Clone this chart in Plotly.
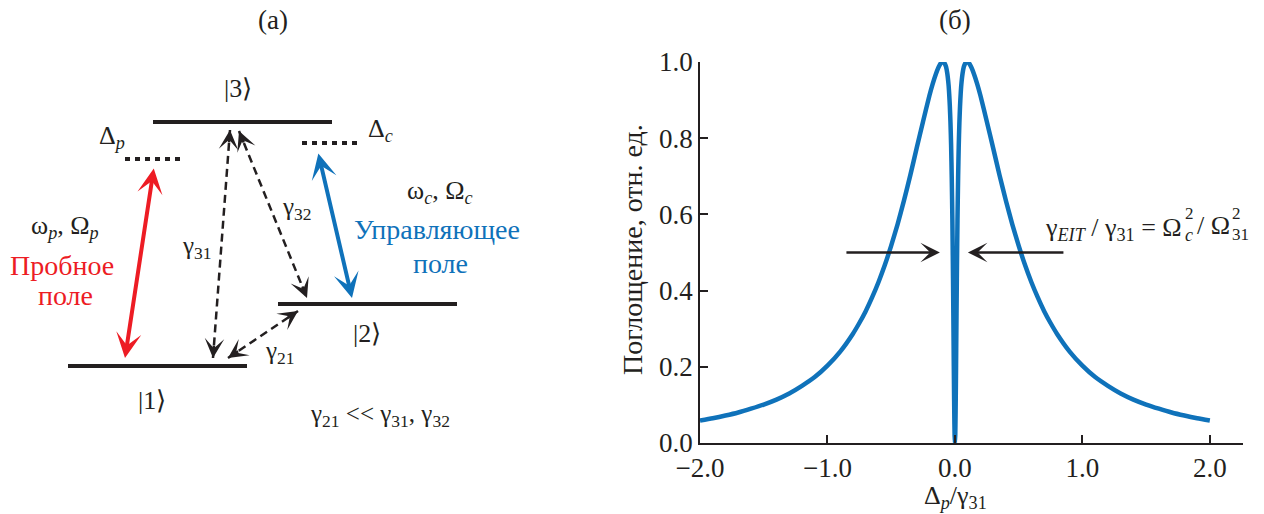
import plotly.graph_objects as go

# ---- absorption spectrum (panel б) ----
delta = [-2.0, -1.9, -1.8, -1.7, -1.6, -1.5, -1.4, -1.3, -1.2, -1.1, -1.0, -0.9, -0.8,
         -0.75, -0.7, -0.65, -0.6, -0.55, -0.5, -0.45, -0.4, -0.35, -0.3, -0.25, -0.2,
         -0.175, -0.15, -0.13, -0.12, -0.11, -0.1, -0.094, -0.085, -0.08, -0.07, -0.06,
         -0.05, -0.045, -0.04, -0.035, -0.03, -0.025, -0.02, -0.015, -0.01, -0.0075,
         -0.005, -0.0025, 0.0, 0.0025, 0.005, 0.0075, 0.01, 0.015, 0.02, 0.025, 0.03,
         0.035, 0.04, 0.045, 0.05, 0.06, 0.07, 0.08, 0.085, 0.094, 0.1, 0.11, 0.12, 0.13,
         0.15, 0.175, 0.2, 0.25, 0.3, 0.35, 0.4, 0.45, 0.5, 0.55, 0.6, 0.65, 0.7, 0.75,
         0.8, 0.9, 1.0, 1.1, 1.2, 1.3, 1.4, 1.5, 1.6, 1.7, 1.8, 1.9, 2.0]
absorption = [0.059, 0.065, 0.072, 0.080, 0.090, 0.101, 0.114, 0.130, 0.150, 0.173,
              0.203, 0.240, 0.287, 0.315, 0.346, 0.382, 0.422, 0.467, 0.518, 0.574,
              0.636, 0.703, 0.774, 0.844, 0.912, 0.942, 0.968, 0.985, 0.992, 0.997,
              0.999, 1.000, 0.999, 0.996, 0.988, 0.970, 0.940, 0.916, 0.884, 0.841,
              0.781, 0.698, 0.584, 0.431, 0.247, 0.154, 0.074, 0.020, 0.0, 0.020,
              0.074, 0.154, 0.247, 0.431, 0.584, 0.698, 0.781, 0.841, 0.884, 0.916,
              0.940, 0.970, 0.988, 0.996, 0.999, 1.000, 0.999, 0.997, 0.992, 0.985,
              0.968, 0.942, 0.912, 0.844, 0.774, 0.703, 0.636, 0.574, 0.518, 0.467,
              0.422, 0.382, 0.346, 0.315, 0.287, 0.240, 0.203, 0.173, 0.150, 0.130,
              0.114, 0.101, 0.090, 0.080, 0.072, 0.065, 0.059]
x_ticks = [-2.0, -1.0, 0.0, 1.0, 2.0]
y_ticks = [0.0, 0.2, 0.4, 0.6, 0.8, 1.0]
eit_level = 0.5
eit_arrow_left = (-0.863, -0.118)
eit_arrow_right = (0.863, 0.102)

W, H = 1264, 514
BLACK = "#231f20"
BLUE = "#0f72ba"
RED = "#ed1c24"
FONT = "Liberation Serif"

fig = go.Figure()
fig.add_trace(go.Scatter(x=delta, y=absorption, mode="lines",
                         line=dict(color=BLUE, width=4.5, shape="spline", smoothing=0.6),
                         cliponaxis=False, hoverinfo="skip", showlegend=False,
                         xaxis="x", yaxis="y"))
# empty trace so the diagram canvas (x2/y2, pixel units) exists
fig.add_trace(go.Scatter(x=[0], y=[0], mode="markers", marker=dict(opacity=0),
                         hoverinfo="skip", showlegend=False, xaxis="x2", yaxis="y2"))

ax_common = dict(showgrid=False, zeroline=False, showline=True, linewidth=1.5,
                 linecolor=BLACK, ticks="inside", ticklen=8, tickwidth=1.5,
                 tickcolor=BLACK, tickformat=".1f", automargin=False,
                 tickfont=dict(family=FONT, size=27, color=BLACK))
fig.update_layout(
    width=W, height=H, margin=dict(l=0, r=0, t=0, b=0),
    paper_bgcolor="white", plot_bgcolor="white",
    font=dict(family=FONT, color=BLACK),
    xaxis=dict(domain=[700 / W, 1243 / W], range=[-2.0, 2.26], tickvals=x_ticks,
               anchor="y", **ax_common),
    yaxis=dict(domain=[(H - 443) / H, (H - 62) / H], range=[0, 1], tickvals=y_ticks,
               anchor="x", **ax_common),
    xaxis2=dict(domain=[0, 0.5], range=[0, W / 2], visible=False, anchor="y2"),
    yaxis2=dict(domain=[0, 1], range=[H, 0], visible=False, anchor="x2"),
)


def px(x, y):
    return dict(x=x / W, y=1 - y / H, xref="paper", yref="paper")


def label(x, y, text, size=26, color=BLACK, angle=0, anchor="center"):
    fig.add_annotation(text=text, showarrow=False, textangle=angle,
                       font=dict(family=FONT, size=size, color=color),
                       xanchor=anchor, yanchor="middle", **px(x, y))


# ---- axis titles and panel captions ----
label(632, 250, "Поглощение, отн. ед.", size=28, angle=-90)
label(955, 497, "Δ<sub><i>p</i></sub>/γ<sub>31</sub>", size=26)
label(273, 20, "(a)", size=27)
label(955, 20, "(б)", size=27)

# EIT linewidth formula, with stacked indices on Ω
label(1184, 229, "γ<sub><i>EIT</i></sub> / γ<sub>31</sub> = Ω", size=26, anchor="right")
label(1189, 213, "2", size=17)
label(1189, 235, "<i>c</i>", size=18)
label(1195, 225, "/ Ω", size=26, anchor="left")
label(1236, 213, "2", size=17)
label(1240, 235, "31", size=17)

# EIT width arrows
for tail, tip in (eit_arrow_left, eit_arrow_right):
    fig.add_annotation(x=tip, y=eit_level, ax=tail, ay=eit_level, xref="x", yref="y",
                       axref="x", ayref="y", text="", showarrow=True, arrowhead=3,
                       arrowwidth=2.5, arrowsize=1.3, arrowcolor=BLACK,
                       font=dict(size=1))

# ---- energy-level diagram (panel a), drawn in pixel units on x2/y2 ----
levels = [(153, 332, 122), (278, 457, 304), (68, 247, 366)]
for x0, x1, y in levels:
    fig.add_shape(type="line", x0=x0, x1=x1, y0=y, y1=y, xref="x2", yref="y2",
                  line=dict(color=BLACK, width=4))
for x0, x1, y in [(125, 183, 159), (302, 360, 143)]:
    fig.add_shape(type="line", x0=x0, x1=x1, y0=y, y1=y, xref="x2", yref="y2",
                  line=dict(color=BLACK, width=4, dash="5px,5px"))


def double_arrow(p, q, color, width, size):
    fig.add_annotation(x=p[0], y=p[1], ax=q[0], ay=q[1], xref="x2", yref="y2",
                       axref="x2", ayref="y2", text="", showarrow=True,
                       arrowhead=3, arrowside="end+start", arrowwidth=width,
                       arrowsize=size, startarrowsize=size, startarrowhead=3,
                       arrowcolor=color, font=dict(size=1))


def head(tip, toward, width, size):
    dx, dy = toward[0] - tip[0], toward[1] - tip[1]
    n = (dx * dx + dy * dy) ** 0.5
    fig.add_annotation(x=tip[0], y=tip[1], ax=tip[0] + dx / n * 14,
                       ay=tip[1] + dy / n * 14, xref="x2", yref="y2",
                       axref="x2", ayref="y2", text="", showarrow=True,
                       arrowhead=3, arrowwidth=width, arrowsize=size,
                       arrowcolor=BLACK, font=dict(size=1))


def dashed_arrow(p, q):
    fig.add_shape(type="line", x0=p[0], y0=p[1], x1=q[0], y1=q[1], xref="x2",
                  yref="y2", line=dict(color=BLACK, width=2.5, dash="8px,5px"))
    head(p, q, 2.5, 1.3)
    head(q, p, 2.5, 1.3)


double_arrow((125, 358), (154, 167), RED, 4, 1.05)
double_arrow((352, 298), (318, 152), BLUE, 4, 1.05)
dashed_arrow((230, 130), (213, 358))
dashed_arrow((239, 131), (307, 298))
dashed_arrow((228, 358), (298, 311))

label(238, 88, "|3⟩")
label(367, 333, "|2⟩")
label(152, 400, "|1⟩")
label(112, 137, "Δ<sub><i>p</i></sub>")
label(380, 130, "Δ<sub><i>c</i></sub>")
label(65, 227, "ω<sub><i>p</i></sub>, Ω<sub><i>p</i></sub>")
label(62, 265, "Пробное", size=28, color=RED)
label(65, 295, "поле", size=28, color=RED)
label(440, 192, "ω<sub><i>c</i></sub>, Ω<sub><i>c</i></sub>")
label(437, 230, "Управляющее", size=28, color=BLUE)
label(440, 263, "поле", size=28, color=BLUE)
label(197, 247, "γ<sub>31</sub>", size=25)
label(297, 208, "γ<sub>32</sub>", size=25)
label(280, 352, "γ<sub>21</sub>", size=25)
label(380, 415, "γ<sub>21</sub> << γ<sub>31</sub>, γ<sub>32</sub>", size=25)

fig.write_html("out.html")
